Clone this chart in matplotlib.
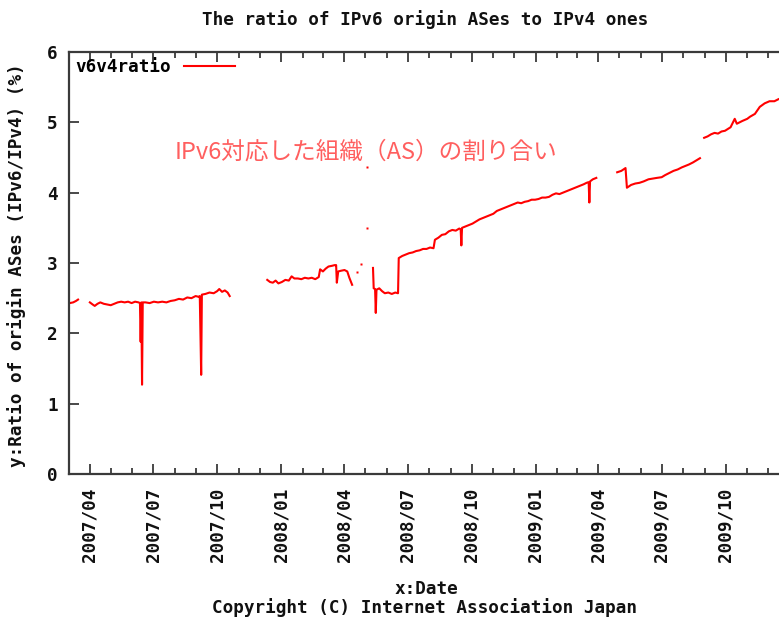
import matplotlib
matplotlib.use('Agg')
import matplotlib.pyplot as plt
import matplotlib.dates as mdates
import numpy as np
import pandas as pd

nan = np.nan

# daily v6/v4 ratio (%), nan = no data
dates = [
    '2007-03-03', '2007-03-08', '2007-03-12', '2007-03-15', '2007-03-24',
    '2007-04-01', '2007-04-05', '2007-04-08', '2007-04-12', '2007-04-16', '2007-04-21',
    '2007-04-26', '2007-05-01', '2007-05-06', '2007-05-11', '2007-05-16', '2007-05-21',
    '2007-05-26', '2007-05-31', '2007-06-05', '2007-06-10', '2007-06-12', '2007-06-13',
    '2007-06-14', '2007-06-15', '2007-06-16', '2007-06-20', '2007-06-26', '2007-07-02',
    '2007-07-08', '2007-07-14', '2007-07-20', '2007-07-26', '2007-08-01', '2007-08-07',
    '2007-08-13', '2007-08-19', '2007-08-25', '2007-08-31', '2007-09-04', '2007-09-06',
    '2007-09-07', '2007-09-08', '2007-09-09', '2007-09-14', '2007-09-20', '2007-09-26',
    '2007-10-01', '2007-10-04', '2007-10-08', '2007-10-12', '2007-10-16', '2007-10-19',
    '2007-11-15',
    '2007-12-12', '2007-12-16', '2007-12-20', '2007-12-24', '2007-12-28', '2008-01-02',
    '2008-01-07', '2008-01-12', '2008-01-16', '2008-01-20', '2008-01-25', '2008-01-30',
    '2008-02-04', '2008-02-09', '2008-02-14', '2008-02-19', '2008-02-24', '2008-02-26',
    '2008-03-01', '2008-03-05', '2008-03-09', '2008-03-14', '2008-03-18', '2008-03-20',
    '2008-03-21', '2008-03-23', '2008-03-27', '2008-04-01', '2008-04-05', '2008-04-08',
    '2008-04-12', '2008-04-16',
    '2008-05-12', '2008-05-13', '2008-05-15', '2008-05-16', '2008-05-17', '2008-05-21',
    '2008-05-25', '2008-05-29', '2008-06-03', '2008-06-08', '2008-06-13', '2008-06-17',
    '2008-06-18', '2008-06-23', '2008-06-28', '2008-07-03', '2008-07-08', '2008-07-13',
    '2008-07-18', '2008-07-23', '2008-07-28', '2008-08-02', '2008-08-07', '2008-08-09',
    '2008-08-14', '2008-08-19', '2008-08-24', '2008-08-29', '2008-09-03', '2008-09-08',
    '2008-09-13', '2008-09-15', '2008-09-16', '2008-09-17', '2008-09-22', '2008-09-27',
    '2008-10-02', '2008-10-07', '2008-10-12', '2008-10-17', '2008-10-22', '2008-10-27',
    '2008-11-01', '2008-11-06', '2008-11-11', '2008-11-16', '2008-11-21', '2008-11-26',
    '2008-12-01', '2008-12-06', '2008-12-11', '2008-12-16', '2008-12-21', '2008-12-26',
    '2008-12-31', '2009-01-05', '2009-01-10', '2009-01-15', '2009-01-20', '2009-01-25',
    '2009-01-30', '2009-02-04', '2009-02-09', '2009-02-14', '2009-02-19', '2009-02-24',
    '2009-03-01', '2009-03-06', '2009-03-11', '2009-03-15', '2009-03-18', '2009-03-19',
    '2009-03-20', '2009-03-24', '2009-03-29', '2009-04-10',
    '2009-04-28', '2009-05-04', '2009-05-10', '2009-05-12', '2009-05-18', '2009-05-24',
    '2009-05-30', '2009-06-05', '2009-06-12', '2009-06-18', '2009-06-24', '2009-07-01',
    '2009-07-06', '2009-07-12', '2009-07-18', '2009-07-24', '2009-07-30', '2009-08-04',
    '2009-08-09', '2009-08-15', '2009-08-20', '2009-08-25', '2009-08-28',
    '2009-08-31', '2009-09-05', '2009-09-10', '2009-09-15', '2009-09-20', '2009-09-25',
    '2009-09-30', '2009-10-08', '2009-10-14', '2009-10-17', '2009-10-25', '2009-11-01',
    '2009-11-05', '2009-11-12', '2009-11-19', '2009-11-26', '2009-12-03', '2009-12-10',
    '2009-12-16', '2009-12-22',
]
ratio = [
    2.43, 2.44, 2.46, 2.48, nan,
    2.44, 2.41, 2.39, 2.42, 2.44, 2.42,
    2.41, 2.40, 2.42, 2.44, 2.45, 2.44,
    2.45, 2.43, 2.45, 2.44, 2.43, 1.88,
    2.44, 1.27, 2.44, 2.44, 2.43, 2.45,
    2.44, 2.45, 2.44, 2.46, 2.47, 2.49,
    2.48, 2.51, 2.50, 2.53, 2.52, 2.53,
    1.98, 1.41, 2.55, 2.56, 2.58, 2.57,
    2.60, 2.63, 2.59, 2.61, 2.58, 2.53,
    nan,
    2.76, 2.73, 2.72, 2.75, 2.71, 2.73,
    2.76, 2.75, 2.81, 2.78, 2.78, 2.77,
    2.79, 2.78, 2.79, 2.77, 2.80, 2.91,
    2.88, 2.92, 2.95, 2.96, 2.97, 2.97,
    2.72, 2.88, 2.89, 2.90, 2.88, 2.79,
    2.69, nan,
    2.93, 2.64, 2.63, 2.29, 2.62, 2.64,
    2.60, 2.57, 2.58, 2.56, 2.58, 2.57,
    3.07, 3.10, 3.12, 3.14, 3.15, 3.17,
    3.18, 3.20, 3.20, 3.22, 3.21, 3.33,
    3.36, 3.40, 3.41, 3.45, 3.47, 3.46,
    3.49, 3.48, 3.25, 3.50, 3.52, 3.54,
    3.56, 3.59, 3.62, 3.64, 3.66, 3.68,
    3.70, 3.74, 3.76, 3.78, 3.80, 3.82,
    3.84, 3.86, 3.85, 3.87, 3.88, 3.90,
    3.90, 3.91, 3.93, 3.93, 3.94, 3.97,
    3.99, 3.98, 4.00, 4.02, 4.04, 4.06,
    4.08, 4.10, 4.12, 4.14, 4.15, 3.86,
    4.16, 4.19, 4.21, nan,
    4.29, 4.31, 4.35, 4.07, 4.11, 4.13,
    4.14, 4.16, 4.19, 4.20, 4.21, 4.22,
    4.25, 4.28, 4.31, 4.33, 4.36, 4.38,
    4.40, 4.43, 4.46, 4.49, nan,
    4.78, 4.80, 4.83, 4.85, 4.84, 4.87,
    4.88, 4.93, 5.05, 4.98, 5.02, 5.05,
    5.08, 5.12, 5.22, 5.27, 5.30, 5.30,
    5.33, 5.35,
]

# stray single-day samples
dot_dates = ['2008-04-19', '2008-04-25', '2008-05-04', '2008-05-04']
dot_ratio = [2.87, 2.99, 3.50, 4.37]

W, H = 779, 617
fig = plt.figure(figsize=(W / 100, H / 100), dpi=100)
ax = fig.add_axes([69 / W, 1 - 474 / H, 720 / W, 422 / H])

mono = {'family': 'DejaVu Sans Mono', 'weight': 'bold'}
fs = 12.7
dark = '#3a3a3a'

x = pd.to_datetime(dates)
ax.plot(x, ratio, color='red', lw=1.5, label='v6v4ratio')
ax.plot(pd.to_datetime(dot_dates), dot_ratio, ls='none', marker='s', ms=1.8,
        color='red', mec='none')

ax.set_xlim(pd.Timestamp('2007-03-02'), pd.Timestamp('2009-12-31'))
ax.set_ylim(0, 6)
ax.set_yticks(range(7))

ax.xaxis.set_major_locator(mdates.MonthLocator(bymonth=[1, 4, 7, 10]))
ax.xaxis.set_minor_locator(mdates.MonthLocator())
ax.xaxis.set_major_formatter(mdates.DateFormatter('%Y/%m'))

ax.tick_params(which='both', direction='in', top=True, right=True, color=dark, width=1.3)
ax.tick_params(which='major', length=7)
ax.tick_params(which='minor', length=4)
ax.tick_params(axis='x', which='major', pad=10, labelrotation=90)
ax.tick_params(axis='y', pad=8)
for lab in ax.get_xticklabels() + ax.get_yticklabels():
    lab.set_fontfamily(mono['family'])
    lab.set_fontweight('bold')
    lab.set_fontsize(fs)
    lab.set_color('#111111')
for lab in ax.get_xticklabels():
    lab.set_verticalalignment('top')

for s in ax.spines.values():
    s.set_color(dark)
    s.set_linewidth(1.6)

leg = ax.legend(loc='upper left', bbox_to_anchor=(0.0, 1.0), frameon=False,
                markerfirst=False, handlelength=2.9, handletextpad=0.75,
                borderaxespad=0.0, borderpad=0.35,
                prop={'family': mono['family'], 'weight': 'bold', 'size': fs})

fig.text(425 / W, 1 - 20 / H, 'The ratio of IPv6 origin ASes to IPv4 ones',
         ha='center', va='center', fontsize=fs, color='#111111', **mono)
fig.text(17 / W, 1 - 265 / H, 'y:Ratio of origin ASes (IPv6/IPv4) (%)', rotation=90,
         ha='center', va='center', fontsize=fs, color='#111111', **mono)
fig.text(426 / W, 1 - 589 / H, 'x:Date', ha='center', va='center', fontsize=fs,
         color='#111111', **mono)
fig.text(425 / W, 1 - 608 / H, 'Copyright (C) Internet Association Japan',
         ha='center', va='center', fontsize=fs, color='#111111', **mono)

fig.text(175 / W, 1 - 152 / H, 'IPv6対応した組織（AS）の割り合い', ha='left', va='center',
         fontsize=17, color='#ff5f5f', family=['Noto Sans CJK JP', 'DejaVu Sans'])

fig.savefig('out.png', dpi=100)
